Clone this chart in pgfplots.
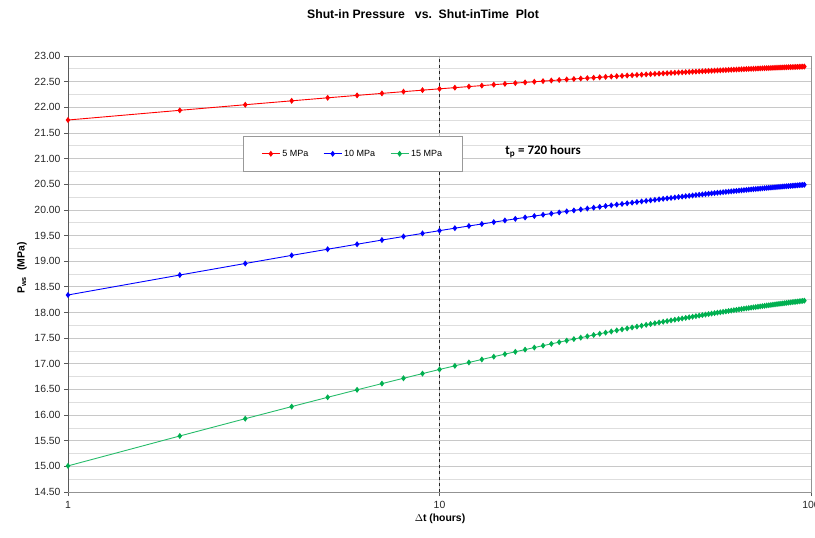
\documentclass[border=0pt]{standalone}
\usepackage{pgfplots}
\pgfplotsset{compat=1.18}
\usepackage{pgfplotstable}
\usepackage{fontspec}
\setmainfont{Liberation Sans}
\newfontfamily\calibri{Carlito}
\definecolor{gmaj}{RGB}{200,200,200}
\definecolor{gmin}{RGB}{222,222,222}
\definecolor{gc}{RGB}{0,176,80}

\pgfplotstableread{
t red blue green
1 21.752 18.341 15.009
2 21.941 18.730 15.592
3 22.050 18.955 15.929
4 22.126 19.113 16.165
5 22.185 19.233 16.346
6 22.232 19.330 16.492
7 22.271 19.412 16.613
8 22.305 19.481 16.717
9 22.334 19.541 16.808
10 22.360 19.595 16.889
11 22.383 19.643 16.960
12 22.404 19.686 17.025
13 22.423 19.725 17.084
14 22.441 19.761 17.138
15 22.457 19.794 17.188
16 22.472 19.825 17.233
17 22.485 19.853 17.276
18 22.498 19.880 17.316
19 22.510 19.905 17.353
20 22.522 19.928 17.388
21 22.532 19.950 17.421
22 22.542 19.971 17.452
23 22.552 19.990 17.481
24 22.561 20.009 17.509
25 22.569 20.026 17.535
26 22.577 20.043 17.561
27 22.585 20.059 17.585
28 22.593 20.075 17.607
29 22.600 20.089 17.629
30 22.606 20.103 17.650
31 22.613 20.116 17.670
32 22.619 20.129 17.689
33 22.625 20.141 17.708
34 22.631 20.153 17.725
35 22.636 20.165 17.742
36 22.642 20.176 17.759
37 22.647 20.186 17.775
38 22.652 20.196 17.790
39 22.656 20.206 17.805
40 22.661 20.216 17.819
41 22.665 20.225 17.832
42 22.670 20.233 17.846
43 22.674 20.242 17.859
44 22.678 20.251 17.871
45 22.682 20.259 17.883
46 22.686 20.266 17.895
47 22.689 20.274 17.906
48 22.693 20.281 17.917
49 22.696 20.289 17.928
50 22.700 20.296 17.939
51 22.703 20.302 17.949
52 22.706 20.309 17.959
53 22.709 20.315 17.968
54 22.712 20.322 17.978
55 22.715 20.328 17.987
56 22.718 20.334 17.996
57 22.721 20.339 18.004
58 22.724 20.345 18.013
59 22.726 20.351 18.021
60 22.729 20.356 18.029
61 22.732 20.361 18.037
62 22.734 20.366 18.045
63 22.736 20.371 18.052
64 22.739 20.376 18.060
65 22.741 20.381 18.067
66 22.743 20.385 18.074
67 22.746 20.390 18.080
68 22.748 20.395 18.087
69 22.750 20.399 18.094
70 22.752 20.403 18.100
71 22.754 20.407 18.106
72 22.756 20.411 18.112
73 22.758 20.415 18.118
74 22.760 20.419 18.124
75 22.762 20.423 18.130
76 22.764 20.427 18.136
77 22.765 20.431 18.141
78 22.767 20.434 18.147
79 22.769 20.438 18.152
80 22.771 20.441 18.157
81 22.772 20.445 18.163
82 22.774 20.448 18.168
83 22.775 20.451 18.172
84 22.777 20.455 18.177
85 22.779 20.458 18.182
86 22.780 20.461 18.187
87 22.782 20.464 18.191
88 22.783 20.467 18.196
89 22.784 20.470 18.201
90 22.786 20.473 18.205
91 22.787 20.476 18.209
92 22.789 20.479 18.213
93 22.790 20.482 18.218
94 22.791 20.484 18.222
95 22.793 20.487 18.226
96 22.794 20.490 18.230
}\data

\begin{document}
\begin{tikzpicture}
\useasboundingbox (0bp,0bp) rectangle (815bp,538bp);
\begin{axis}[
  at={(68bp,46bp)}, anchor=south west,
  scale only axis, width=743bp, height=436bp,
  xmode=log, log basis x=10,
  xmin=1, xmax=100, ymin=14.5, ymax=23,
  xtick={1,10,100}, xticklabels={1,10,100},
  ytick={14.5,15,15.5,16,16.5,17,17.5,18,18.5,19,19.5,20,20.5,21,21.5,22,22.5,23},
  minor y tick num=1,
  yticklabel style={/pgf/number format/.cd, fixed, fixed zerofill, precision=2},
  /pgf/number format/assume math mode=true,
  tick label style={font=\fontsize{10.4bp}{12bp}\selectfont, text=black!85},
  xticklabel style={yshift=-2bp},
  xtick pos=bottom, ytick pos=left,
  tick align=outside, major tick length=4bp, minor tick length=0pt,
  tick style={black!65, line width=0.7bp},
  grid=both, major grid style={gmaj, line width=0.7bp}, minor grid style={gmin, line width=0.7bp},
  axis line style={draw=gray!85, line width=0.8bp},
  legend style={at={(rel axis cs:0.2355,0.8165)}, anchor=north west,
     draw=gray!80, line width=0.8bp, fill=white,
     font=\fontsize{9bp}{11bp}\selectfont,
     inner xsep=18bp, inner ysep=11.5bp,
     legend columns=3,
     /tikz/every odd column/.append style={column sep=0bp},
     /tikz/every even column/.append style={column sep=13bp}},
  legend image code/.code={\draw[mark repeat=2,mark phase=2] plot coordinates {(0bp,0bp) (9bp,0bp) (18bp,0bp)};},
  every axis plot/.append style={line width=0.9bp, mark=diamond*, mark size=2.3bp, mark options={solid}},
]
\addplot[red, mark options={fill=red}] table[x=t, y=red] {\data};
\addlegendentry{5 MPa}
\addplot[blue, mark options={fill=blue}] table[x=t, y=blue] {\data};
\addlegendentry{10 MPa}
\addplot[gc!85!white, mark options={draw=gc, fill=gc}] table[x=t, y=green] {\data};
\addlegendentry{15 MPa}
\draw[black!85, dashed, line width=0.8bp] (axis cs:10,14.5) -- (axis cs:10,23);
\draw[black!65, line width=0.9bp] (rel axis cs:0,0) -- (rel axis cs:0,1);
\draw[black!70, dash pattern=on 2bp off 1bp, line width=0.9bp] (rel axis cs:0,0) -- (rel axis cs:1,0);
\node[font=\calibri\bfseries\fontsize{13bp}{15bp}\selectfont, anchor=center] at (axis cs:19,21.13) {t\textsubscript{p} = 720 hours};
\end{axis}
\node[font=\bfseries\fontsize{12.2bp}{14bp}\selectfont] at (423bp,524bp) {Shut-in Pressure\ \ \ vs.\ \ Shut-inTime\ \ Plot};
\node[font=\bfseries\fontsize{10.4bp}{12bp}\selectfont] at (440bp,19bp) {$\Delta$t (hours)};
\node[font=\bfseries\fontsize{10.4bp}{12bp}\selectfont, rotate=90] at (22bp,270bp) {P\textsubscript{ws}\ \ (MPa)};
\end{tikzpicture}
\end{document}
